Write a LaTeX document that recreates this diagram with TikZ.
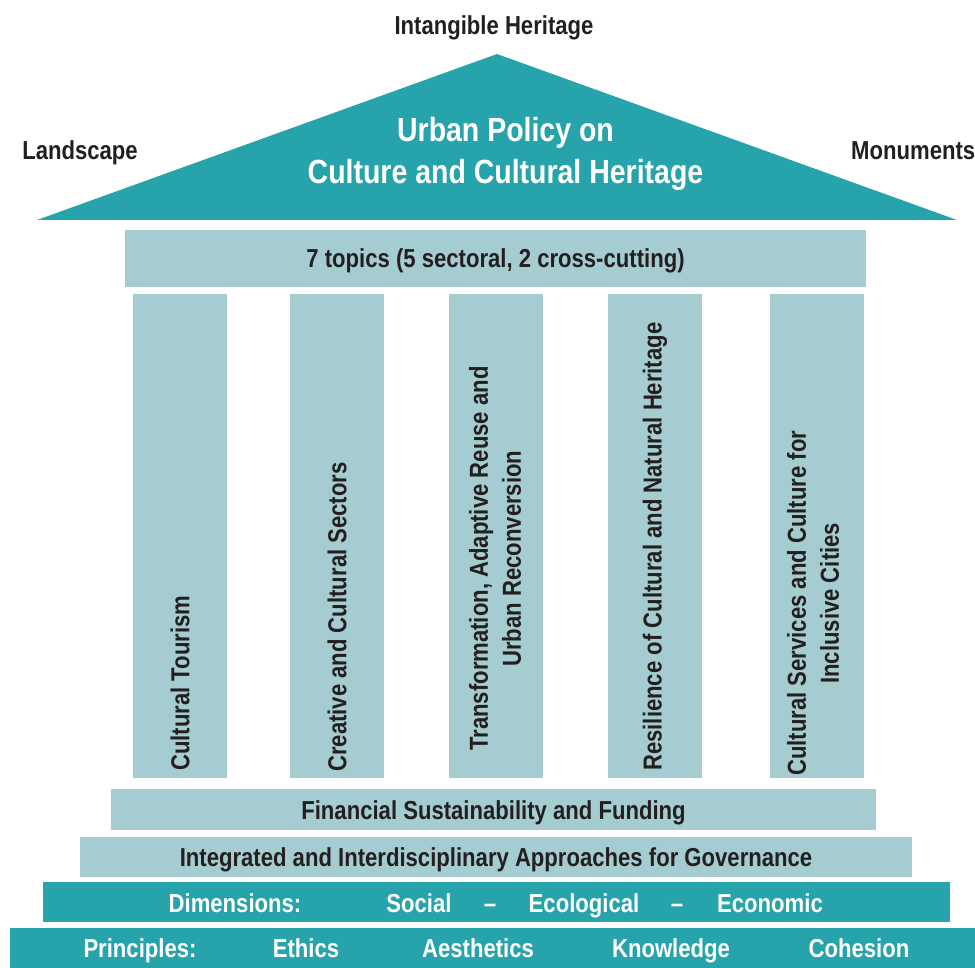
\documentclass[tikz,border=0pt]{standalone}
\usepackage{fontspec}
\setmainfont{Liberation Sans}[FakeStretch=0.85]
\usepackage{tikz}
\usetikzlibrary{positioning}
\definecolor{roofteal}{HTML}{27A4AB}
\definecolor{pillarblue}{HTML}{A5CDD1}
\definecolor{inkdark}{HTML}{231F20}
\tikzstyle{lightbar} = [rectangle, fill=pillarblue, inner sep=0pt, text=inkdark, text height=19pt, text depth=0pt, font=\bfseries\fontsize{26}{30}\selectfont]
\tikzstyle{tealbar} = [rectangle, fill=roofteal, inner sep=0pt]
\tikzstyle{pillar} = [rectangle, fill=pillarblue, inner sep=0pt, minimum width=94pt, minimum height=484pt]
\tikzstyle{pillartext} = [rotate=90, anchor=west, align=center, inner sep=0pt, text=inkdark, font=\bfseries\fontsize{26}{33}\selectfont]
\tikzstyle{sidetext} = [inner sep=0pt, text=inkdark, text height=19pt, text depth=0pt, font=\bfseries\fontsize{26}{30}\selectfont]
\tikzstyle{whitetext} = [inner sep=0pt, text=white, text height=19pt, text depth=0pt, font=\bfseries\fontsize{26}{30}\selectfont]

\begin{document}
\begin{tikzpicture}[x=1pt, y=-1pt]
		\useasboundingbox (0,0) rectangle (975,968);
		
		% roof
		\fill[roofteal] (37,220) -- (497,54) -- (957,220) -- cycle;
		\node [whitetext, anchor=base, align=center, text height=, text depth=, font=\bfseries\fontsize{33.5}{42}\selectfont] (policy) at (505.5,184) {Urban Policy on\\Culture and Cultural Heritage};
		\node [sidetext] (intangible) at (494,25.5) {Intangible Heritage};
		\node [sidetext] (landscape) at (80,150.5) {Landscape};
		\node [sidetext, anchor=west] (monuments) at (851,150.5) {Monuments};
		
		% architrave
		\node [lightbar, minimum width=741pt, minimum height=57pt] (topics) at (495.5,258.5) {7 topics (5 sectoral, 2 cross-cutting)};
		
		% pillars
		\node [pillar] (tourism) at (180,536) {};
		\node [pillar] (creative) at (336.5,536) {};
		\node [pillar] (transform) at (496,536) {};
		\node [pillar] (resilience) at (654.5,536) {};
		\node [pillar] (services) at (816.5,536) {};
		
		\node [pillartext] at (180,771) {Cultural Tourism};
		\node [pillartext] at (337,772) {Creative and Cultural Sectors};
		\node [pillartext] at (495,751) {Transformation, Adaptive Reuse and\\Urban Reconversion};
		\node [pillartext] at (655,771) {Resilience of Cultural and Natural Heritage};
		\node [pillartext] at (813,776) {Cultural Services and Culture for\\Inclusive Cities};
		
		% steps
		\node [lightbar, minimum width=765pt, minimum height=41pt] (funding) at (493.5,809.5) {Financial Sustainability and Funding};
		\node [lightbar, minimum width=832pt, minimum height=40pt] (governance) at (496,857) {Integrated and Interdisciplinary Approaches for Governance};
		\node [tealbar, minimum width=907pt, minimum height=40pt] (dimensions) at (496.5,902) {};
		\node [tealbar, minimum width=965pt, minimum height=40pt] (principles) at (492.5,948) {};
		
		\node [whitetext] (dimlabel) at (235,903) {Dimensions:};
		\node [whitetext] (social) at (419,903) {Social};
		\node [whitetext] (dashone) at (490,903) {--};
		\node [whitetext] (ecological) at (584,903) {Ecological};
		\node [whitetext] (dashtwo) at (677,903) {--};
		\node [whitetext] (economic) at (770,903) {Economic};
		
		\node [whitetext] (prinlabel) at (140,948) {Principles:};
		\node [whitetext] (ethics) at (306,948) {Ethics};
		\node [whitetext] (aesthetics) at (478,948) {Aesthetics};
		\node [whitetext] (knowledge) at (671,948) {Knowledge};
		\node [whitetext] (cohesion) at (859,948) {Cohesion};
		
	\end{tikzpicture}
\end{document}
